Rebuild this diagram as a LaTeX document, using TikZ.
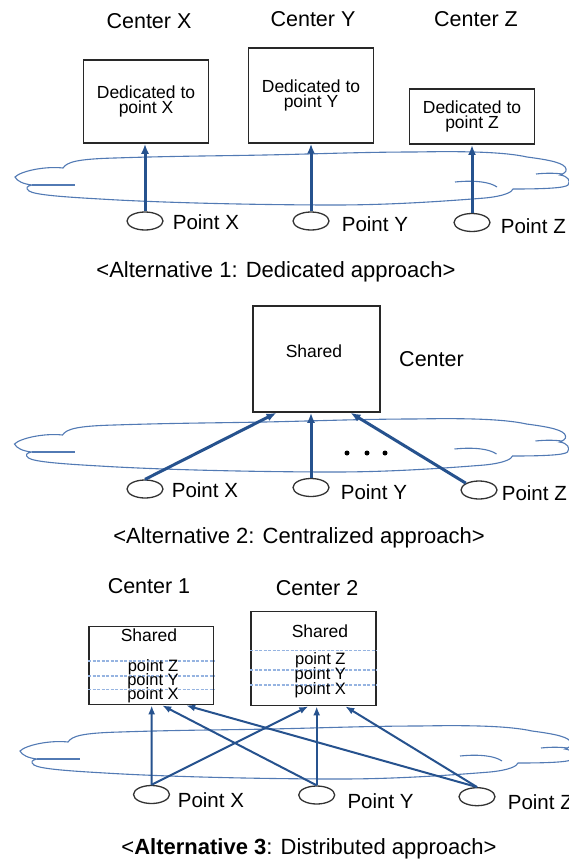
\documentclass[tikz,border=0pt]{standalone}
\usepackage{fontspec}
\setmainfont{Liberation Sans}
\usepackage{tikz}
\usetikzlibrary{positioning,arrows.meta,shapes.geometric}
\usepackage{xcolor}
\definecolor{LinkBlue}{RGB}{38,82,142}
\definecolor{CloudBlue}{RGB}{82,122,180}
\definecolor{SlotBlue}{RGB}{150,180,225}
\definecolor{BoxLine}{RGB}{40,40,40}

\begin{document}
\begin{tikzpicture}[
    x=1pt, y=-1pt,
    centerbox/.style={rectangle, draw=BoxLine, line width=1.6pt, fill=white,
        minimum width=125pt, inner sep=0pt, align=center,
        font=\fontsize{17.5}{15}\selectfont},
    boxtext/.style={inner sep=0pt, font=\fontsize{17.5}{15}\selectfont},
    slottext/.style={inner sep=0pt, font=\fontsize{16.5}{14}\selectfont},
    site/.style={ellipse, draw=black!80, line width=1.3pt, fill=white,
        minimum width=36pt, minimum height=18pt, inner sep=0pt},
    headlbl/.style={inner sep=0pt, font=\fontsize{21.5}{26}\selectfont},
    sitelbl/.style={inner sep=0pt, font=\fontsize{20.5}{24}\selectfont},
    caplbl/.style={inner sep=0pt, font=\fontsize{22}{26}\selectfont},
    link/.style={LinkBlue, line width=3pt, -{Latex[length=10pt,width=8pt]}},
    thinlink/.style={LinkBlue, line width=2pt, -{Latex[length=9pt,width=7pt]}},
    slot/.style={SlotBlue, line width=1.2pt, dash pattern=on 3pt off 1.5pt},
    cloudline/.style={CloudBlue, line width=1.1pt},
    pics/cloud/.style={code={
        \draw[cloudline, fill=white] (0,0)
          .. controls (6,-6) and (30,-11) .. (48,-9)
          .. controls (52,-15) and (62,-18) .. (100,-19)
          .. controls (160,-21) and (200,-21) .. (250,-22)
          .. controls (300,-23) and (350,-25) .. (400,-25)
          .. controls (450,-26) and (490,-25) .. (512,-20)
          .. controls (535,-17) and (550,-14) .. (551,-8)
          .. controls (552,-5) and (548,-3) .. (545,-2)
          .. controls (553,-1) and (556,4) .. (553,8)
          .. controls (550,11) and (530,12) .. (498,12)
          .. controls (497,15) and (490,19) .. (470,21)
          .. controls (420,25) and (370,28) .. (320,28)
          .. controls (250,28) and (150,26) .. (85,22)
          .. controls (50,20) and (20,18) .. (14,14)
          .. controls (10,11) and (12,9) .. (17,8)
          .. controls (8,7) and (2,4) .. (0,0) -- cycle;
        \draw[cloudline] (17,8) .. controls (30,8) and (45,8) .. (60,8);
        \draw[cloudline] (440,5) .. controls (460,3) and (475,5) .. (482,10);
        \draw[cloudline] (521,-3) .. controls (530,-4) and (540,-4) .. (547,-3);
    }},
]
\useasboundingbox (0,0) rectangle (569,861);

\pic at (15,177) {cloud};
\node[centerbox, minimum height=83pt] (bx1) at (146,101.5) {Dedicated to\\point X};
\node[centerbox, minimum height=95pt] (by1) at (311,95.4) {Dedicated to\\point Y};
\node[centerbox, minimum height=55pt] (bz1) at (472,116.7) {Dedicated to\\point Z};
\node[headlbl] (hx1) at (149,21.3) {Center X};
\node[headlbl] (hy1) at (313,19.2) {Center Y};
\node[headlbl] (hz1) at (476,19.2) {Center Z};
\node[site] (ex1) at (145,221) {};
\node[site] (ey1) at (311,221) {};
\node[site] (ez1) at (472,222.5) {};
\node[sitelbl, right=9pt of ex1, yshift=-1.5pt] (px1) {Point X};
\node[sitelbl, right=12pt of ey1, yshift=-3pt] (py1) {Point Y};
\node[sitelbl, right=10pt of ez1, yshift=-3.5pt] (pz1) {Point Z};
\draw[link] (ex1.north) -- (ex1.north |- bx1.south);
\draw[link] (ey1.north) -- (ey1.north |- by1.south);
\draw[link] (ez1.north) -- (ez1.north |- bz1.south);
\node[caplbl] (cap1) at (276,271.7) {<Alternative 1: Dedicated approach>};

\pic at (14.5,444) {cloud};
\node[centerbox, minimum width=127pt, minimum height=106pt] (bs2) at (316.5,359) {};
\node[boxtext] (ts2) at (314,351) {Shared};
\node[headlbl] (hc2) at (431.5,359.5) {Center};
\foreach \dx in {347,367,385} \fill (\dx,453) circle (2.5pt);
\node[site] (ex2) at (145,489) {};
\node[site] (ey2) at (311,487.5) {};
\node[site] (ez2) at (479,490) {};
\node[sitelbl, right=8pt of ex2, yshift=-1pt] (px2) {Point X};
\node[sitelbl, right=11pt of ey2, yshift=-5pt] (py2) {Point Y};
\node[sitelbl, right=4pt of ez2, yshift=-3pt] (pz2) {Point Z};
\draw[link] (ex2.north) -- ([xshift=-40pt]bs2.south);
\draw[link] (ey2.north) -- (ey2.north |- bs2.south);
\draw[link] (ez2.north west) -- ([xshift=34pt]bs2.south);
\node[caplbl] (cap2) at (299,538) {<Alternative 2: Centralized approach>};

\pic at (20,751) {cloud};
\node[centerbox, minimum width=124.5pt, minimum height=78pt] (bc1) at (151.2,665.6) {};
\node[centerbox, minimum height=94pt] (bc2) at (313.3,658.6) {};
\node[headlbl] (hc1) at (149,586) {Center 1};
\node[headlbl] (hc2) at (317,588) {Center 2};
\foreach \y in {661,676,689.5} \draw[slot] (bc1.west |- 0,\y) -- (bc1.east |- 0,\y);
\foreach \y in {650.7,670,685} \draw[slot] (bc2.west |- 0,\y) -- (bc2.east |- 0,\y);
\node[boxtext] (s31) at (149,635) {Shared};
\node[slottext, anchor=base] (z31) at (153,671.7) {point Z};
\node[slottext, anchor=base] (y31) at (153,685.5) {point Y};
\node[slottext, anchor=base] (x31) at (153,699.3) {point X};
\node[boxtext] (s32) at (320,631.7) {Shared};
\node[slottext, anchor=base] (z32) at (320.3,664.3) {point Z};
\node[slottext, anchor=base] (y32) at (320.3,679.3) {point Y};
\node[slottext, anchor=base] (x32) at (320.3,694.3) {point X};
\node[site] (ex3) at (151.5,794.5) {};
\node[site] (ey3) at (316.7,795) {};
\node[site] (ez3) at (477,796.7) {};
\node[sitelbl, right=7.5pt of ex3, yshift=-5.5pt] (px3) {Point X};
\node[sitelbl, right=12pt of ey3, yshift=-6pt] (py3) {Point Y};
\node[sitelbl, right=12pt of ez3, yshift=-5pt] (pz3) {Point Z};
\draw[thinlink] (ex3.north) -- ([xshift=0.5pt]bc1.south);
\draw[thinlink] (ex3.north) -- ([xshift=-5pt]bc2.south);
\draw[thinlink] (ey3.north) -- ([xshift=11pt]bc1.south);
\draw[thinlink] (ey3.north) -- (ey3.north |- bc2.south);
\draw[thinlink] (ez3.north) -- ([xshift=35pt]bc1.south);
\draw[thinlink] (ez3.north) -- ([xshift=32pt]bc2.south);
\node[caplbl] (cap3) at (309,848.5) {<\textbf{Alternative 3}: Distributed approach>};
\end{tikzpicture}
\end{document}
